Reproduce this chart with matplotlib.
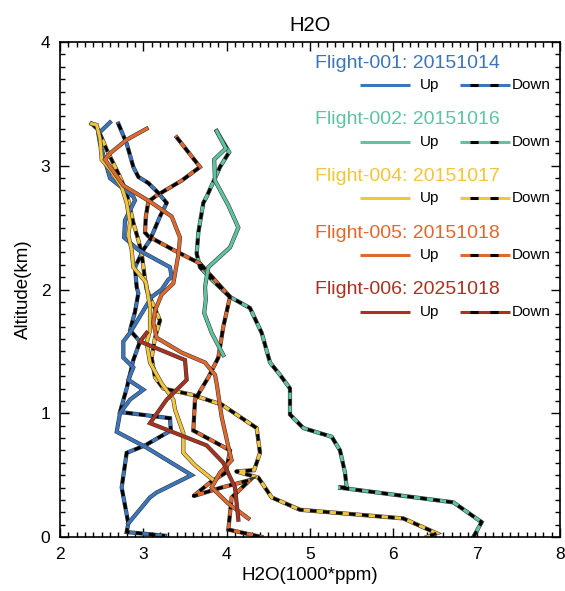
import matplotlib
matplotlib.use("Agg")
import matplotlib.pyplot as plt
import matplotlib.patheffects as pe
from matplotlib.ticker import MultipleLocator

plt.rcParams['font.family'] = ['Liberation Sans', 'DejaVu Sans']
plt.rcParams['lines.scale_dashes'] = False

# ---- flight labels and colours ----
flight_labels = ['Flight-001: 20151014', 'Flight-002: 20151016',
                 'Flight-004: 20151017', 'Flight-005: 20151018',
                 'Flight-006: 20251018']
flight_colors = ['#3b75bb', '#5ec3a0', '#f3c53a', '#e1682c', '#a8321f']

# ---- profiles: H2O (1000*ppm) vs altitude (km) ----
# Flight-001
f001_up_h2o = [2.82, 3.08, 3.16, 3.58, 3.02, 2.68, 2.72, 2.84, 3.00, 2.82, 2.88, 2.76,
               2.76, 2.84, 3.10, 3.22, 3.30, 3.34, 3.32, 2.94, 2.77, 2.78, 2.90, 2.88,
               2.60, 2.48, 2.46, 2.60]
f001_up_alt = [0.11, 0.32, 0.36, 0.50, 0.73, 0.85, 1.00, 1.11, 1.19, 1.27, 1.37, 1.45,
               1.58, 1.65, 1.94, 2.00, 2.08, 2.10, 2.18, 2.32, 2.42, 2.56, 2.72, 2.75,
               2.90, 3.18, 3.26, 3.35]
f001_dn_h2o = [2.70, 2.80, 2.88, 2.94, 3.06, 3.18, 3.28, 3.20, 3.08, 3.00, 2.90, 2.92,
               2.94, 2.90, 2.84, 2.96, 2.88, 2.80, 2.72, 3.32, 3.33, 3.02, 2.80, 2.74,
               2.82, 2.80, 3.26]
f001_dn_alt = [3.34, 3.18, 2.99, 2.91, 2.86, 2.78, 2.70, 2.59, 2.40, 2.32, 2.18, 2.02,
               1.97, 1.82, 1.67, 1.58, 1.43, 1.20, 1.01, 0.96, 0.86, 0.74, 0.68, 0.40,
               0.11, 0.04, 0.01]

# Flight-002
f002_up_h2o = [3.96, 3.82, 3.73, 3.75, 3.74, 3.78, 4.04, 4.14, 4.02, 3.86, 3.85, 3.99, 3.88]
f002_up_alt = [1.47, 1.65, 1.81, 1.92, 2.02, 2.18, 2.34, 2.50, 2.68, 2.88, 3.05, 3.14, 3.28]
f002_dn_h2o = [3.88, 4.03, 3.92, 3.76, 3.72, 3.66, 3.64, 3.68, 3.82, 4.04, 4.28, 4.42,
               4.52, 4.64, 4.76, 4.76, 4.92, 5.26, 5.36, 5.42, 5.44, 5.34, 6.72, 7.06, 6.96]
f002_dn_alt = [3.28, 3.11, 2.99, 2.75, 2.70, 2.46, 2.29, 2.18, 2.08, 1.94, 1.85, 1.65,
               1.41, 1.31, 1.20, 0.99, 0.88, 0.81, 0.70, 0.52, 0.40, 0.40, 0.28, 0.12, 0.00]

# Flight-004
f004_up_h2o = [3.84, 3.62, 3.48, 3.48, 3.38, 3.36, 3.22, 3.08, 3.04, 3.08, 3.08, 3.03,
               2.88, 2.86, 2.82, 2.84, 2.80, 2.74, 2.60, 2.50, 2.48, 2.44, 2.38]
f004_up_alt = [0.46, 0.58, 0.68, 0.84, 1.03, 1.11, 1.24, 1.41, 1.57, 1.67, 1.86, 2.06,
               2.18, 2.32, 2.44, 2.54, 2.70, 2.83, 2.97, 3.05, 3.22, 3.33, 3.34]
f004_dn_h2o = [2.38, 2.46, 2.56, 2.72, 2.80, 2.88, 2.94, 2.98, 3.02, 3.04, 3.20, 3.14,
               3.10, 3.14, 3.24, 3.58, 3.94, 4.36, 4.40, 4.33, 4.11, 4.38, 4.54, 4.88,
               6.12, 6.52, 6.40]
f004_dn_alt = [3.34, 3.29, 3.13, 2.91, 2.78, 2.54, 2.40, 2.29, 2.08, 2.00, 1.75, 1.61,
               1.45, 1.29, 1.20, 1.15, 1.07, 0.88, 0.68, 0.54, 0.53, 0.48, 0.32, 0.22,
               0.15, 0.03, 0.00]

# Flight-005
f005_up_h2o = [4.26, 4.02, 3.82, 3.92, 4.06, 4.02, 3.94, 3.88, 3.86, 3.74, 3.46, 3.16,
               3.12, 3.14, 3.22, 3.36, 3.42, 3.44, 3.34, 3.08, 2.76, 2.54, 2.60, 2.80, 3.04]
f005_up_alt = [0.15, 0.27, 0.40, 0.52, 0.62, 0.73, 0.97, 1.24, 1.31, 1.41, 1.49, 1.61,
               1.73, 1.83, 1.96, 2.05, 2.28, 2.42, 2.59, 2.71, 2.84, 3.05, 3.10, 3.21, 3.30]
f005_dn_h2o = [3.40, 3.68, 3.46, 3.16, 3.06, 3.03, 3.02, 3.06, 3.36, 3.68, 4.04, 3.96,
               3.90, 3.78, 3.62, 3.60, 3.96, 4.04, 3.99, 3.80, 3.60, 3.94, 4.28, 4.06,
               4.02, 4.42]
f005_dn_alt = [3.23, 2.99, 2.88, 2.76, 2.71, 2.59, 2.46, 2.43, 2.32, 2.21, 1.94, 1.70,
               1.45, 1.29, 1.11, 0.86, 0.73, 0.70, 0.52, 0.44, 0.33, 0.40, 0.46, 0.32,
               0.06, 0.00]

# Flight-006
f006_up_h2o = [4.14, 4.10, 3.96, 3.76, 3.08, 3.28, 3.52, 3.50, 2.96, 3.04]
f006_up_alt = [0.14, 0.40, 0.60, 0.74, 0.92, 1.11, 1.27, 1.43, 1.58, 1.65]

profiles = [
    (f001_up_h2o, f001_up_alt, f001_dn_h2o, f001_dn_alt, flight_colors[0]),
    (f002_up_h2o, f002_up_alt, f002_dn_h2o, f002_dn_alt, flight_colors[1]),
    (f004_up_h2o, f004_up_alt, f004_dn_h2o, f004_dn_alt, flight_colors[2]),
    (f005_up_h2o, f005_up_alt, f005_dn_h2o, f005_dn_alt, flight_colors[3]),
    (f006_up_h2o, f006_up_alt, None, None, flight_colors[4]),
]

LW = 2.2
outline = [pe.withStroke(linewidth=LW + 0.8, foreground='#3a3a3a')]

fig = plt.figure(figsize=(5.65, 5.91), dpi=100)
ax = fig.add_axes([60 / 565, 54 / 591, 500 / 565, 495 / 591])

for up_x, up_y, dn_x, dn_y, col in profiles:
    if dn_x is not None:
        ax.plot(dn_x, dn_y, color=col, lw=LW, solid_joinstyle='miter',
                path_effects=outline, zorder=2)
        ax.plot(dn_x, dn_y, color='black', lw=LW, dashes=(4.8, 4.6),
                dash_capstyle='butt', zorder=2.1)
    ax.plot(up_x, up_y, color=col, lw=LW, solid_joinstyle='miter',
            path_effects=outline, zorder=3)

ax.set_xlim(2, 8)
ax.set_ylim(0, 4)
ax.xaxis.set_major_locator(MultipleLocator(1))
ax.xaxis.set_minor_locator(MultipleLocator(0.1))
ax.yaxis.set_major_locator(MultipleLocator(1))
ax.yaxis.set_minor_locator(MultipleLocator(0.1))
ax.tick_params(which='both', direction='in', top=True, right=True,
               labelsize=12.5, width=1.0, color='black')
ax.tick_params(which='major', length=6.5, pad=7)
ax.tick_params(which='minor', length=3.3)
for s in ax.spines.values():
    s.set_linewidth(1.2)

ax.set_title('H2O', fontsize=14.5, pad=8)
ax.set_xlabel('H2O(1000*ppm)', fontsize=13.5, labelpad=4)
ax.set_ylabel('Altitude(km)', fontsize=13.5, labelpad=6)

# legend block, drawn in axes fractions
row_step = 56.7 / 495
for i, (lab, col) in enumerate(zip(flight_labels, flight_colors)):
    ty = (537 - 63) / 495 - i * row_step
    ly = ty - 22 / 495
    ax.text(0.88, ty, lab, color=col, fontsize=14, ha='right', va='center',
            transform=ax.transAxes)
    ax.plot([0.60, 0.70], [ly, ly], color=col, lw=LW, transform=ax.transAxes,
            solid_capstyle='butt')
    ax.text(0.72, ly, 'Up', fontsize=11, ha='left', va='center',
            transform=ax.transAxes)
    ax.plot([0.80, 0.90], [ly, ly], color=col, lw=LW, transform=ax.transAxes,
            solid_capstyle='butt')
    ax.plot([0.80, 0.90], [ly, ly], color='black', lw=LW, transform=ax.transAxes,
            linestyle=(7.2, (5.8, 8.6)), dash_capstyle='butt')
    ax.text(0.903, ly, 'Down', fontsize=11, ha='left', va='center',
            transform=ax.transAxes)

fig.savefig('out.png', dpi=100)
